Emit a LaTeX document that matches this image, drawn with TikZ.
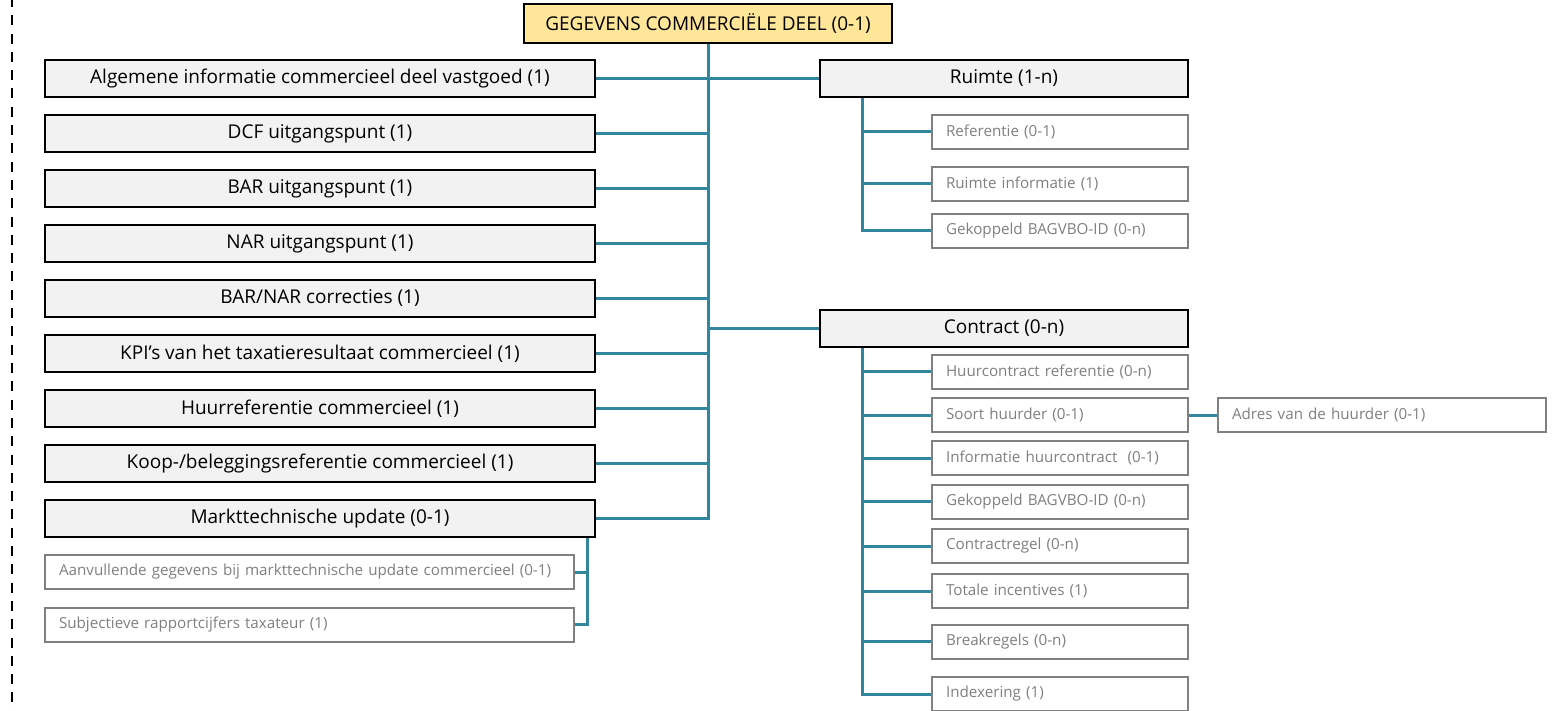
\documentclass[tikz,border=0pt]{standalone}
\usepackage{fontspec}
\setmainfont{Open Sans}
\definecolor{tealline}{HTML}{31869B}
\definecolor{boxfill}{HTML}{F2F2F2}
\definecolor{topyellow}{HTML}{FFE699}
\definecolor{subgray}{HTML}{808080}
\tikzset{
  mainbox/.style={draw=black, line width=2pt, fill=boxfill, minimum width=550pt, minimum height=37pt, inner sep=0pt, font=\fontsize{19}{22}\selectfont},
  rbox/.style={mainbox, minimum width=368pt},
  topbox/.style={mainbox, fill=topyellow, minimum width=368pt, minimum height=39pt, font=\fontsize{19}{22}\selectfont},
  subbase/.style={draw=subgray, line width=2pt, fill=white, text=subgray, minimum height=34pt, inner xsep=14pt, inner ysep=0pt, align=left, font=\fontsize{15.2}{18}\selectfont},
  subR/.style={subbase, text width=228pt},
  subL/.style={subbase, text width=501pt},
  subA/.style={subbase, text width=300pt},
  conn/.style={draw=tealline, line width=3pt},
}
\begin{document}
\begin{tikzpicture}[x=1pt, y=-1pt]
\useasboundingbox (0,0) rectangle (1555,711);
% dashed border line
\coordinate (d1) at (12,0);
\coordinate (d2) at (12,711);
\draw[line width=2.6pt, dash pattern=on 10pt off 8.3pt, dash phase=3pt] (d1) -- (d2);

\node[topbox] (top) at (708,23.5) {GEGEVENS COMMERCIËLE DEEL (0-1)};

\node[mainbox] (m1) at (320,78.5) {Algemene informatie commercieel deel vastgoed (1)};
\node[mainbox] (m2) at (320,133.5) {DCF uitgangspunt (1)};
\node[mainbox] (m3) at (320,188.5) {BAR uitgangspunt (1)};
\node[mainbox] (m4) at (320,243.5) {NAR uitgangspunt (1)};
\node[mainbox] (m5) at (320,298.5) {BAR/NAR correcties (1)};
\node[mainbox] (m6) at (320,353.5) {KPI’s van het taxatieresultaat commercieel (1)};
\node[mainbox] (m7) at (320,408.5) {Huurreferentie commercieel (1)};
\node[mainbox] (m8) at (320,463.5) {Koop-/beleggingsreferentie commercieel (1)};
\node[mainbox] (m9) at (320,518.5) {Markttechnische update (0-1)};

\node[subL] (s1) at (309.5,572) {Aanvullende gegevens bij markttechnische update commercieel (0-1)};
\node[subL] (s2) at (309.5,624.5) {Subjectieve rapportcijfers taxateur (1)};

\node[rbox] (ruimte) at (1004,78.5) {Ruimte (1-n)};
\node[subR] (r1) at (1060,132) {Referentie (0-1)};
\node[subR] (r2) at (1060,184) {Ruimte informatie (1)};
\node[subR] (r3) at (1060,231) {Gekoppeld BAGVBO-ID (0-n)};

\node[rbox] (contract) at (1004,328.5) {Contract (0-n)};
\node[subR] (c1) at (1060,371.5) {Huurcontract referentie (0-n)};
\node[subR] (c2) at (1060,415) {Soort huurder (0-1)};
\node[subR] (c3) at (1060,458) {Informatie huurcontract\ \ (0-1)};
\node[subR] (c4) at (1060,501.5) {Gekoppeld BAGVBO-ID (0-n)};
\node[subR] (c5) at (1060,546) {Contractregel (0-n)};
\node[subR] (c6) at (1060,591) {Totale incentives (1)};
\node[subR] (c7) at (1060,641.5) {Breakregels (0-n)};
\node[subR] (c8) at (1060,694) {Indexering (1)};

\node[subA] (adres) at (1382,415) {Adres van de huurder (0-1)};

% trunk
\draw[conn] (top.south) -- (top.south |- m9.east) -- (m9.east);
\foreach \n in {m2,m3,m4,m5,m6,m7,m8}{
  \draw[conn] (\n.east) -- (\n.east -| top.south);
}
\draw[conn] (m1.east) -- (ruimte.west);
\draw[conn] (contract.west) -- (contract.west -| top.south);

% ruimte branch
\coordinate (rx) at (862,0);
\draw[conn] (rx |- ruimte.south) -- (rx |- r3.west) -- (r3.west);
\foreach \n in {r1,r2}{
  \draw[conn] (\n.west) -- (rx |- \n.west);
}

% contract branch
\draw[conn] (rx |- contract.south) -- (rx |- c8.west) -- (c8.west);
\foreach \n in {c1,c2,c3,c4,c5,c6,c7}{
  \draw[conn] (\n.west) -- (rx |- \n.west);
}
\draw[conn] (c2.east) -- (adres.west);

% markttechnische branch
\coordinate (mx) at (587,0);
\draw[conn] (mx |- m9.south) -- (mx |- s2.east) -- (s2.east);
\draw[conn] (s1.east) -- (mx |- s1.east);
\end{tikzpicture}
\end{document}
